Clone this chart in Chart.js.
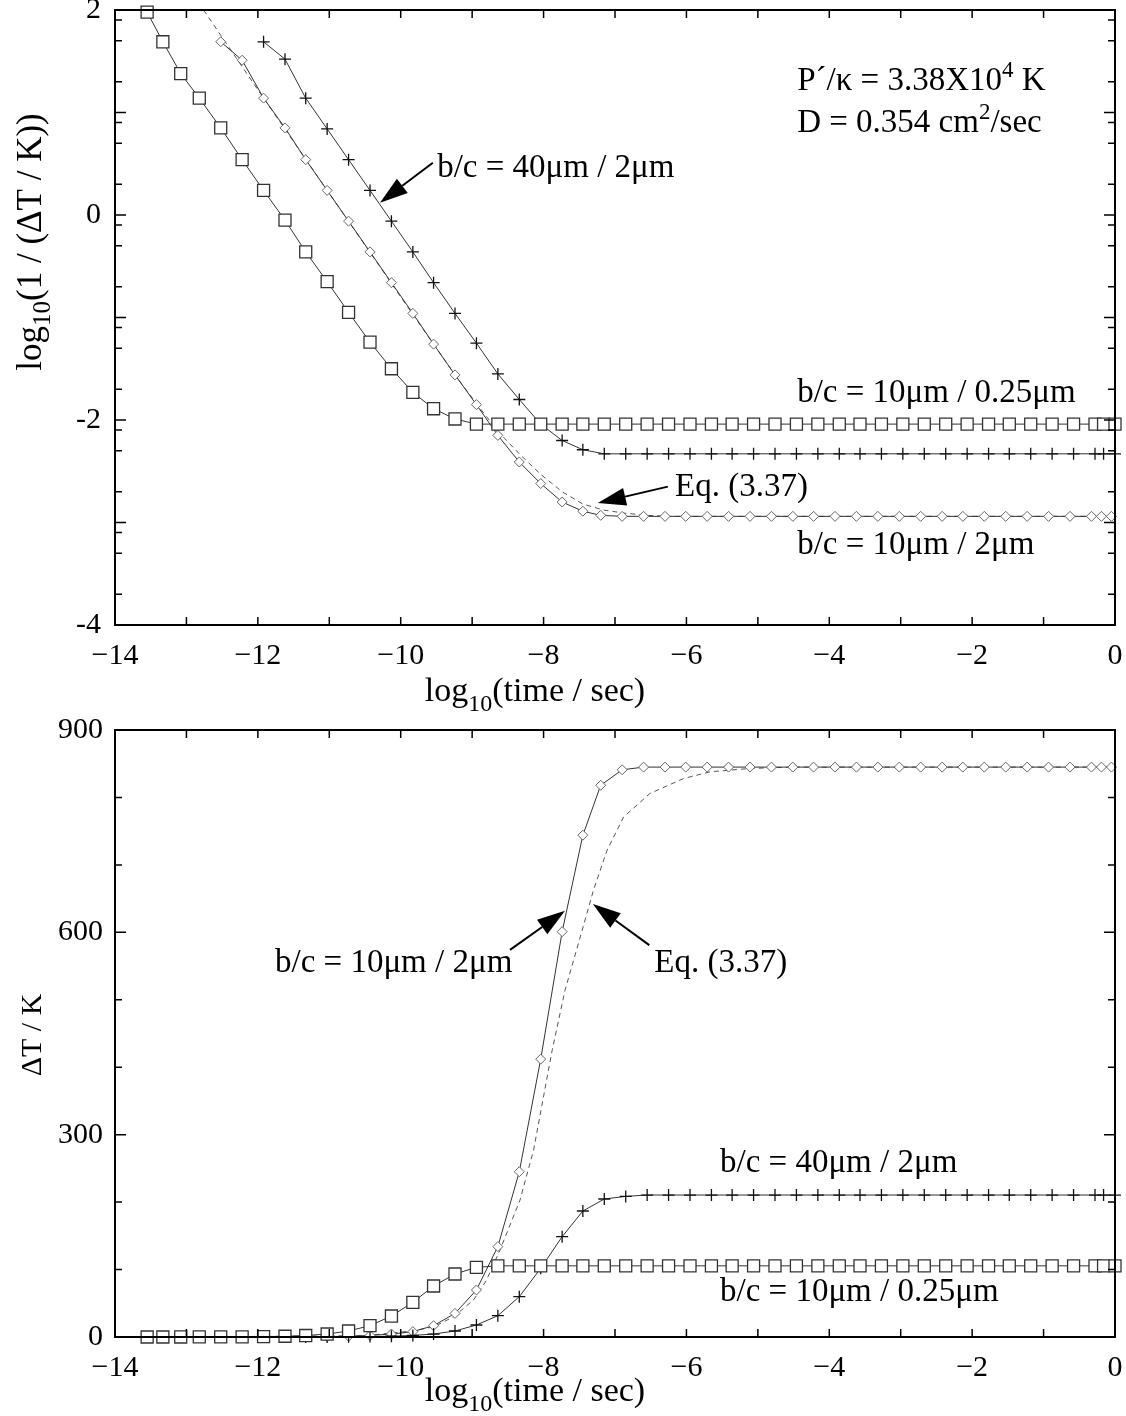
<!DOCTYPE html>
<html><head><meta charset="utf-8">
<script src="https://cdn.jsdelivr.net/npm/chart.js@4.4.1/dist/chart.umd.min.js"></script>
<style>
html,body{margin:0;padding:0;background:#fff;}
#wrap{position:relative;width:1126px;height:1416px;background:#fff;}
.c{position:absolute;left:0;width:1126px;}
</style></head><body>
<div id="wrap">
<div class="c" style="top:0;height:715px"><canvas id="topc"></canvas></div>
<div class="c" style="top:715px;height:701px"><canvas id="botc"></canvas></div>
</div>
<script>
// ---------- data: log10(time/sec) grids ----------
const logT_sq = [-13.55,-13.33,-13.08,-12.82,-12.52,-12.22,-11.92,-11.62,-11.33,-11.03,-10.73,-10.43,-10.13,-9.83,-9.54,-9.24,-8.94,-8.64,-8.34,-8.04,-7.74,-7.45,-7.15,-6.85,-6.55,-6.25,-5.95,-5.65,-5.36,-5.06,-4.76,-4.46,-4.16,-3.86,-3.57,-3.27,-2.97,-2.67,-2.37,-2.07,-1.77,-1.48,-1.18,-0.88,-0.58,-0.28,-0.16,0];
const logT_pl = [-11.92,-11.62,-11.33,-11.03,-10.73,-10.43,-10.13,-9.83,-9.54,-9.24,-8.94,-8.64,-8.34,-8.04,-7.74,-7.45,-7.15,-6.85,-6.55,-6.25,-5.95,-5.65,-5.36,-5.06,-4.76,-4.46,-4.16,-3.86,-3.57,-3.27,-2.97,-2.67,-2.37,-2.07,-1.77,-1.48,-1.18,-0.88,-0.58,-0.28,-0.16,0];
const logT_dm = [-12.52,-12.22,-11.92,-11.62,-11.33,-11.03,-10.73,-10.43,-10.13,-9.83,-9.54,-9.24,-8.94,-8.64,-8.34,-8.04,-7.74,-7.45,-7.20,-6.90,-6.60,-6.30,-6.01,-5.71,-5.41,-5.11,-4.81,-4.51,-4.22,-3.92,-3.62,-3.32,-3.02,-2.72,-2.42,-2.13,-1.83,-1.53,-1.23,-0.93,-0.63,-0.33,-0.19,-0.05];
const logT_eqTop = [-12.76,-11.92,-10.93,-9.84,-9.24,-8.94,-8.64,-8.34,-8.04,-7.74,-7.45,-7.15,-6.85,-6.55,-6.25,0];
const logT_eqBot = [-12.76,-10.50,-9.84,-9.54,-9.26,-8.98,-8.80,-8.61,-8.33,-8.14,-7.88,-7.70,-7.46,-7.30,-7.11,-6.88,-6.51,-6.04,-5.67,-5.11,-4.50,0];

// ---------- top panel: log10(1/(dT/K)) ----------
const sq_top = [1.98,1.69,1.38,1.14,0.85,0.54,0.24,-0.05,-0.36,-0.65,-0.95,-1.24,-1.50,-1.73,-1.89,-1.99,-2.04,
  -2.04,-2.04,-2.04,-2.04,-2.04,-2.04,-2.04,-2.04,-2.04,-2.04,-2.04,-2.04,-2.04,-2.04,-2.04,
  -2.04,-2.04,-2.04,-2.04,-2.04,-2.04,-2.04,-2.04,-2.04,-2.04,-2.04,-2.04,-2.04,-2.04,-2.04,-2.04];
const pl_top = [1.69,1.52,1.14,0.84,0.54,0.24,-0.06,-0.36,-0.66,-0.96,-1.25,-1.55,-1.80,-2.04,-2.20,-2.29,-2.33,
  -2.33,-2.33,-2.33,-2.33,-2.33,-2.33,-2.33,-2.33,-2.33,-2.33,-2.33,-2.33,
  -2.33,-2.33,-2.33,-2.33,-2.33,-2.33,-2.33,-2.33,-2.33,-2.33,-2.33,-2.33,-2.33];
const dm_top = [1.69,1.51,1.14,0.85,0.54,0.24,-0.06,-0.36,-0.66,-0.96,-1.26,-1.56,-1.85,-2.15,-2.41,-2.62,-2.80,-2.89,-2.93,-2.94,
  -2.94,-2.94,-2.94,-2.94,-2.94,-2.94,-2.94,-2.94,-2.94,-2.94,-2.94,-2.94,
  -2.94,-2.94,-2.94,-2.94,-2.94,-2.94,-2.94,-2.94,-2.94,-2.94,-2.94,-2.94];
const eq_top = [2.00,1.14,0.14,-0.96,-1.56,-1.84,-2.11,-2.33,-2.53,-2.70,-2.82,-2.88,-2.91,-2.93,-2.94,-2.94];

// ---------- bottom panel: dT / K ----------
const sq_bot = [0.01,0.02,0.04,0.07,0.14,0.29,0.58,1.1,2.2,4.4,8.9,16.8,31.1,51.4,75.6,93.4,103.3,
  105.5,105.5,105.5,105.5,105.5,105.5,105.5,105.5,105.5,105.5,105.5,105.5,105.5,105.5,105.5,
  105.5,105.5,105.5,105.5,105.5,105.5,105.5,105.5,105.5,105.5,105.5,105.5,105.5,105.5,105.5,105.5];
const pl_bot = [0.02,0.03,0.07,0.14,0.29,0.58,1.15,2.3,4.4,8.9,17.8,31.6,59.8,101.8,148.7,186.8,204.6,208.5,
  210.5,210.5,210.5,210.5,210.5,210.5,210.5,210.5,210.5,210.5,210.5,210.5,
  210.5,210.5,210.5,210.5,210.5,210.5,210.5,210.5,210.5,210.5,210.5,210.5];
const dm_bot = [0.02,0.03,0.07,0.14,0.29,0.58,1.15,2.3,4.4,7.9,16.8,35,69.7,134,245,412,601,744,818,841,
  845,845,845,845,845,845,845,845,845,845,845,845,
  845,845,845,845,845,845,845,845,845,845,845,845];
const eq_bot = [0,2,9,15,30,55,84,129,203,277,425,514,603,663,722,771,806,828,838,843,845,845];

// ---------- tick labels ----------
const xTickVals = [-14,-12,-10,-8,-6,-4,-2,0];
const xTickLabels = ['\u221214','\u221212','\u221210','\u22128','\u22126','\u22124','\u22122','0'];
const yTopTickVals = [-4,-2,0,2];
const yTopTickLabels = ['-4','-2','0','2'];
const yBotTickVals = [0,300,600,900];
const yBotTickLabels = ['0','300','600','900'];

const FONT = '"Liberation Serif","Times New Roman",Times,serif';
function pts(xs, ys){ return xs.map((x,i)=>({x:x, y:ys[i]})); }

function drawRich(ctx, parts, x, y, align){
  let total = 0;
  parts.forEach(p=>{ ctx.font = p[1]+'px '+FONT; total += ctx.measureText(p[0]).width; });
  let cx = align==='center' ? x-total/2 : x;
  ctx.textAlign='left'; ctx.textBaseline='alphabetic'; ctx.fillStyle='#000';
  parts.forEach(p=>{ ctx.font = p[1]+'px '+FONT; ctx.fillText(p[0], cx, y+(p[2]||0)); cx += ctx.measureText(p[0]).width; });
}
function arrow(ctx,x0,y0,x1,y1){
  const a=Math.atan2(y1-y0,x1-x0), L=28, W=9;
  const bx=x1-L*Math.cos(a), by=y1-L*Math.sin(a);
  ctx.strokeStyle='#000'; ctx.lineWidth=2;
  ctx.beginPath(); ctx.moveTo(x0,y0); ctx.lineTo(bx,by); ctx.stroke();
  ctx.fillStyle='#000'; ctx.beginPath(); ctx.moveTo(x1,y1);
  ctx.lineTo(bx+W*Math.sin(a), by-W*Math.cos(a));
  ctx.lineTo(bx-W*Math.sin(a), by+W*Math.cos(a)); ctx.closePath(); ctx.fill();
}

const decoPlugin = {
  id:'deco',
  afterDraw(chart, args, o){
    const ctx=chart.ctx, ca=chart.chartArea, xs=chart.scales.x, ys=chart.scales.y;
    ctx.save();
    ctx.strokeStyle='#000'; ctx.lineWidth=1.5;
    for(let v=-13; v<=-1; v++){
      const px=xs.getPixelForValue(v);
      ctx.beginPath(); ctx.moveTo(px,ca.bottom); ctx.lineTo(px,ca.bottom-8);
      ctx.moveTo(px,ca.top); ctx.lineTo(px,ca.top+8); ctx.stroke();
    }
    o.yMajor.forEach(v=>{ const py=ys.getPixelForValue(v);
      ctx.beginPath(); ctx.moveTo(ca.left,py); ctx.lineTo(ca.left+11,py);
      ctx.moveTo(ca.right,py); ctx.lineTo(ca.right-11,py); ctx.stroke(); });
    o.yMinor.forEach(v=>{ const py=ys.getPixelForValue(v);
      ctx.beginPath(); ctx.moveTo(ca.left,py); ctx.lineTo(ca.left+7,py);
      ctx.moveTo(ca.right,py); ctx.lineTo(ca.right-7,py); ctx.stroke(); });
    ctx.lineWidth=2; ctx.strokeRect(ca.left,ca.top,ca.right-ca.left,ca.bottom-ca.top);
    const ts=o.tSize;
    drawRich(ctx, [['log',ts],['10',Math.round(ts*0.72),ts*0.3],['(time / sec)',ts]], o.xTitle[0], ca.bottom+o.xTitle[1], 'center');
    ctx.save(); ctx.translate(o.yTitle[0], o.yTitle[1]); ctx.rotate(-Math.PI/2);
    drawRich(ctx, o.yTitleParts, 0, 0, 'center');
    ctx.restore();
    o.texts.forEach(t=>{
      const px=xs.getPixelForValue(t.x), py=ys.getPixelForValue(t.y);
      if(t.parts){ drawRich(ctx, t.parts, px, py, 'left'); }
      else { ctx.font=o.aSize+'px '+FONT; ctx.fillStyle='#000'; ctx.textAlign='left'; ctx.textBaseline='middle'; ctx.fillText(t.s, px, py); }
    });
    o.arrows.forEach(a=>{
      arrow(ctx, xs.getPixelForValue(a[0]), ys.getPixelForValue(a[1]), xs.getPixelForValue(a[2]), ys.getPixelForValue(a[3]));
    });
    ctx.restore();
  }
};

function datasets(sq, pl, dm, eqx, eq){
  return [
    {data:pts(logT_sq,sq), showLine:true, borderColor:'#333', borderWidth:1, pointStyle:'rect', pointRadius:8.5,
      pointBorderColor:'#333', pointBackgroundColor:'#fff', pointBorderWidth:1.3, clip:false},
    {data:pts(logT_pl,pl), showLine:true, borderColor:'#333', borderWidth:1, pointStyle:'cross', pointRadius:6,
      pointBorderColor:'#111', pointBorderWidth:1.3, clip:false},
    {data:pts(logT_dm,dm), showLine:true, borderColor:'#333', borderWidth:1, pointStyle:'rectRot', pointRadius:5,
      pointBorderColor:'#666', pointBackgroundColor:'#fff', pointBorderWidth:1, clip:false},
    {data:pts(eqx,eq), showLine:true, borderColor:'#555', borderWidth:1, borderDash:[5,4], pointRadius:0, clip:false}
  ];
}

function scaleCfg(isX, vals, labels, min, max, fitSize, pad){
  return {
    type:'linear', min:min, max:max,
    afterBuildTicks: s => { s.ticks = vals.map(v=>({value:v})); },
    ticks:{ autoSkip:false, maxRotation:0, padding:pad, color:'#000', font:{family:FONT, size:30},
      callback:(v)=>{ const i=vals.indexOf(v); return i>=0 ? labels[i] : ''; } },
    grid:{display:false, drawTicks:false}, border:{display:false},
    afterFit: s => { if(isX){ s.height=fitSize; } else { s.width=fitSize; }
      s.paddingTop=0; s.paddingBottom=0; s.paddingLeft=0; s.paddingRight=0; }
  };
}

const commonOpts = { responsive:true, maintainAspectRatio:false, animation:false, events:[] };

const topMinor=[]; for(let n=-4;n<2;n++){ [0.301,0.699,0.903].forEach(f=>topMinor.push(n+f)); }
const botMinor=[100,200,400,500,700,800];

new Chart(document.getElementById('topc'), {
  type:'scatter',
  data:{datasets:datasets(sq_top,pl_top,dm_top,logT_eqTop,eq_top)},
  options:Object.assign({}, commonOpts, {
    layout:{padding:{left:0,right:11,top:10,bottom:0}},
    scales:{ x:scaleCfg(true,xTickVals,xTickLabels,-14,0,90,13), y:scaleCfg(false,yTopTickVals,yTopTickLabels,-4,2,115,14) },
    plugins:{ legend:{display:false}, tooltip:{enabled:false},
      deco:{ tSize:34, aSize:33,
        yMajor:[-3,-2,-1,0,1], yMinor:topMinor,
        xTitle:[535,76],
        yTitle:[41,242],
        yTitleParts:[['log',35],['10',25,9],['(1 / (\u0394T / K))',35]],
        texts:[
          {x:-9.49,y:0.459,s:'b/c = 40\u03bcm / 2\u03bcm'},
          {x:-6.16,y:-2.654,s:'Eq. (3.37)'},
          {x:-4.45,y:-1.737,s:'b/c = 10\u03bcm / 0.25\u03bcm'},
          {x:-4.45,y:-3.22,s:'b/c = 10\u03bcm / 2\u03bcm'},
          {x:-4.45,y:1.22,parts:[['P\u00b4/\u03ba = 3.38X10',33],['4',23,-13],[' K',33]]},
          {x:-4.45,y:0.81,parts:[['D = 0.354 cm',33],['2',23,-13],['/sec',33]]}
        ],
        arrows:[[-9.55,0.51,-10.29,0.12],[-6.26,-2.65,-7.24,-2.81]]
      } }
  }),
  plugins:[decoPlugin]
});

new Chart(document.getElementById('botc'), {
  type:'scatter',
  data:{datasets:datasets(sq_bot,pl_bot,dm_bot,logT_eqBot,eq_bot)},
  options:Object.assign({}, commonOpts, {
    layout:{padding:{left:0,right:11,top:15,bottom:0}},
    scales:{ x:scaleCfg(true,xTickVals,xTickLabels,-14,0,79,13), y:scaleCfg(false,yBotTickVals,yBotTickLabels,0,900,115,12) },
    plugins:{ legend:{display:false}, tooltip:{enabled:false},
      deco:{ tSize:34, aSize:33,
        yMajor:[300,600], yMinor:botMinor,
        xTitle:[535,64],
        yTitle:[41,320],
        yTitleParts:[['\u0394T / K',30]],
        texts:[
          {x:-11.76,y:554.5,s:'b/c = 10\u03bcm / 2\u03bcm'},
          {x:-6.45,y:554.5,s:'Eq. (3.37)'},
          {x:-5.53,y:258,s:'b/c = 40\u03bcm / 2\u03bcm'},
          {x:-5.53,y:66.7,s:'b/c = 10\u03bcm / 0.25\u03bcm'}
        ],
        arrows:[[-8.47,574,-7.70,632],[-6.52,581,-7.31,642]]
      } }
  }),
  plugins:[decoPlugin]
});
</script>
</body></html>
